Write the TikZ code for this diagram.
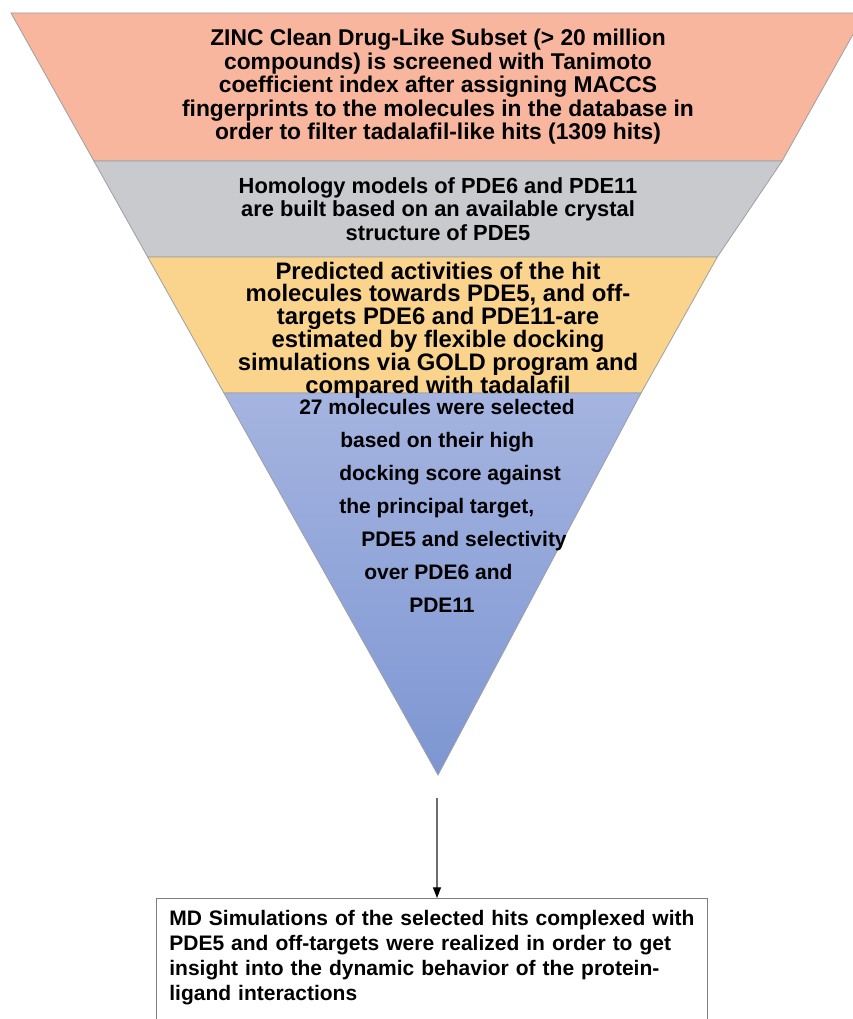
\documentclass[tikz,border=0pt]{standalone}
\usepackage{fontspec}
\setmainfont{Liberation Sans}
\usepackage{xcolor}
\usetikzlibrary{arrows.meta,positioning}
\definecolor{zincorange}{HTML}{F7B69D}
\definecolor{homgray}{HTML}{C9CACD}
\definecolor{goldyellow}{HTML}{FAD48C}
\definecolor{bluetop}{HTML}{A5B4E0}
\definecolor{bluebot}{HTML}{7D96D2}
\definecolor{linegray}{HTML}{9C9FA4}
\definecolor{boxgray}{HTML}{7F7F7F}
\tikzset{
  band/.style={draw=linegray,line width=0.6pt},
  bandtext/.style={font=\fontsize{16.8}{17.6}\selectfont\bfseries,align=center,inner sep=0pt},
  seltext/.style={font=\fontsize{15.75}{24.75}\selectfont\bfseries,align=left,inner sep=0pt},
  mdbox/.style={draw=boxgray,line width=1pt,fill=white,text width=394pt,inner xsep=9.75pt,
    inner ysep=9pt,text depth=95pt,font=\fontsize{15.75}{18.75}\selectfont\bfseries},
  flowarrow/.style={draw=gray!85!black,line width=0.9pt,-{Triangle[black,length=8pt,width=6pt]}}
}
\begin{document}
\begin{tikzpicture}[x=0.75pt,y=-0.75pt]
\useasboundingbox (0,0) rectangle (852,1019);
% funnel, top to bottom
\draw[band,fill=zincorange] (11,13) -- (865,13) -- (782.1,161) -- (93.9,161) -- cycle;
\draw[band,fill=homgray] (93.9,161) -- (782.1,161) -- (717.3,257) -- (147.7,257) -- cycle;
\draw[band,fill=goldyellow] (147.7,257) -- (717.3,257) -- (641.1,393) -- (223.9,393) -- cycle;
\draw[band,top color=bluetop,bottom color=bluebot] (223.9,393) -- (641.1,393) -- (438,775) -- cycle;
\node[bandtext,font=\fontsize{17.1}{17.6}\selectfont\bfseries] (zinc) at (438,87) {ZINC Clean Drug-Like Subset (> 20 million\\compounds) is screened with Tanimoto\\coefficient index after assigning MACCS\\fingerprints to the molecules in the database in\\order to filter tadalafil-like hits (1309 hits)};
\node[bandtext,font=\fontsize{16.4}{17.6}\selectfont\bfseries] (homology) at (438,209) {Homology models of PDE6 and PDE11\\are built based on an available crystal\\structure of PDE5};
\node[bandtext,font=\fontsize{17.9}{17.1}\selectfont\bfseries] (gold) at (438,330) {Predicted activities of the hit\\molecules towards PDE5, and off-\\targets PDE6 and PDE11-are\\estimated by flexible docking\\simulations via GOLD program and\\compared with tadalafil};
\node[seltext,anchor=north west] (selected) at (299,399) {27 molecules were selected\\\hspace*{30.75pt}based on their high\\\hspace*{30pt}docking score against\\\hspace*{30pt}the principal target,\\\hspace*{46.5pt}PDE5 and selectivity\\\hspace*{48.75pt}over PDE6 and\\\hspace*{82.5pt}PDE11};
% last step
\node[mdbox,anchor=north] (md) at (432,898) {MD Simulations of the selected hits complexed with \linebreak PDE5 and off-targets were realized in order to get \linebreak insight into the dynamic behavior of the protein-\linebreak ligand interactions};
\coordinate (arrowstart) at (437,798);
\draw[flowarrow] (arrowstart) -- (arrowstart |- md.north);
\end{tikzpicture}
\end{document}
